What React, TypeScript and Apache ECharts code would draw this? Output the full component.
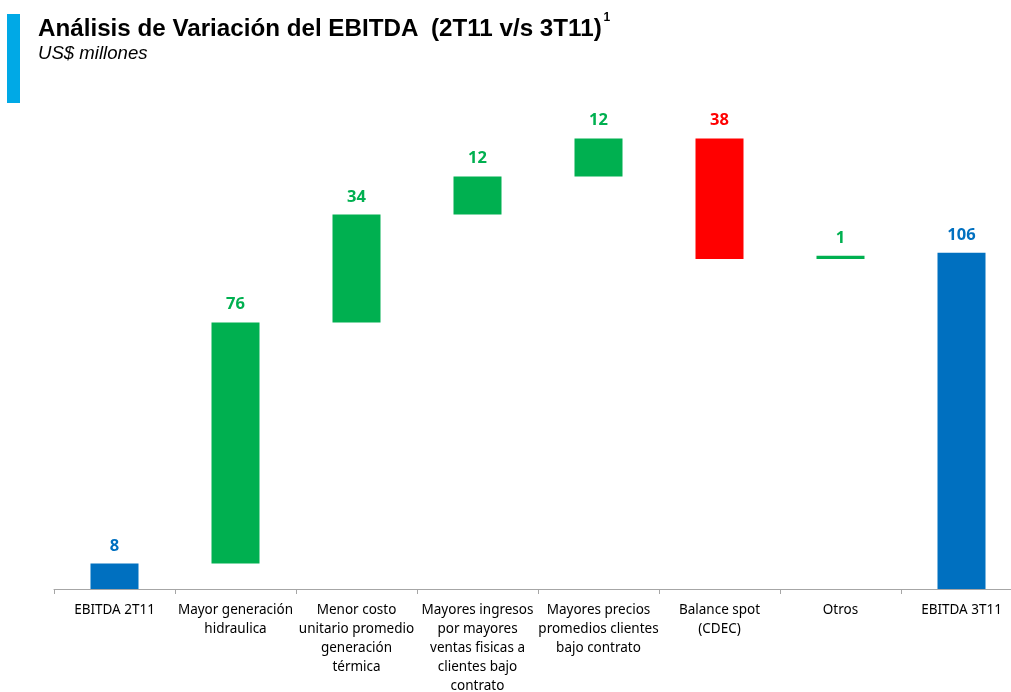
import React, { useEffect, useRef } from "react";
import * as echarts from "echarts";

const categories = [
  "EBITDA 2T11",
  "Mayor generación\nhidraulica",
  "Menor costo\nunitario promedio\ngeneración\ntérmica",
  "Mayores ingresos\npor mayores\nventas fisicas a\nclientes bajo\ncontrato",
  "Mayores precios\npromedios clientes\nbajo contrato",
  "Balance spot\n(CDEC)",
  "Otros",
  "EBITDA 3T11",
];
// kind: total / up / down
const kinds = ["total", "up", "up", "up", "up", "down", "up", "total"];
const values = [8, 76, 34, 12, 12, 38, 1, 106];

const COLORS: Record<string, string> = { total: "#0070C0", up: "#00B050", down: "#FF0000" };

export default function App() {
  const ref = useRef<HTMLDivElement>(null);
  useEffect(() => {
    if (!ref.current) return;
    const chart = echarts.init(ref.current, undefined, { renderer: "svg" });
    const bases: number[] = [];
    let level = 0;
    kinds.forEach((k, i) => {
      const v = values[i];
      if (k === "total") {
        bases.push(0);
        level = v;
      } else if (k === "up") {
        bases.push(level);
        level += v;
      } else {
        level -= v;
        bases.push(level);
      }
    });
    chart.setOption({
      animation: false,
      graphic: [
        { type: "rect", shape: { x: 7, y: 14, width: 13, height: 89 }, style: { fill: "#00A9E6" } },
        {
          type: "text",
          x: 38,
          y: 11,
          style: {
            text: "{t|Análisis de Variación del EBITDA  (2T11 v/s 3T11)}{s|1}",
            rich: {
              t: { fontFamily: "Liberation Sans, Arial, sans-serif", fontWeight: "bold", fontSize: 24.2, fill: "#000", verticalAlign: "bottom", lineHeight: 28 },
              s: { fontFamily: "Liberation Sans, Arial, sans-serif", fontWeight: "bold", fontSize: 12, fill: "#000", verticalAlign: "top", lineHeight: 28, padding: [0, 0, 14, 1] },
            },
          },
        },
        {
          type: "text",
          x: 38,
          y: 43,
          style: { text: "US$ millones", fontFamily: "Liberation Sans, Arial, sans-serif", fontStyle: "italic", fontSize: 18.6, fill: "#000" },
        },
      ],
      grid: { left: 54, top: 113, width: 968, height: 476, outerBoundsMode: "none", containLabel: false },
      xAxis: {
        type: "category",
        data: categories,
        axisLine: { lineStyle: { color: "#A6A6A6", width: 1 } },
        axisTick: { show: true, length: 5, lineStyle: { color: "#A6A6A6" } },
        axisLabel: {
          interval: 0,
          margin: 10,
          color: "#000",
          fontFamily: "Noto Sans, Open Sans, sans-serif",
          fontSize: 13.5,
          lineHeight: 19,
        },
      },
      yAxis: { type: "value", min: 0, max: 150, show: false, splitLine: { show: false } },
      series: [
        {
          type: "bar",
          stack: "w",
          barWidth: 48,
          itemStyle: { color: "transparent" },
          data: bases,
          silent: true,
        },
        {
          type: "bar",
          stack: "w",
          barWidth: 48,
          data: values.map((v, i) => ({
            value: v,
            itemStyle: { color: COLORS[kinds[i]] },
            label: { color: COLORS[kinds[i]] },
          })),
          label: {
            show: true,
            position: "top",
            distance: 11,
            fontFamily: "Open Sans, Noto Sans, sans-serif",
            fontWeight: "bold",
            fontSize: 16.5,
          },
        },
      ],
    });
    return () => chart.dispose();
  }, []);
  return <div ref={ref} style={{ position: "fixed", left: 0, top: 0, width: 1030, height: 692 }} />;
}
